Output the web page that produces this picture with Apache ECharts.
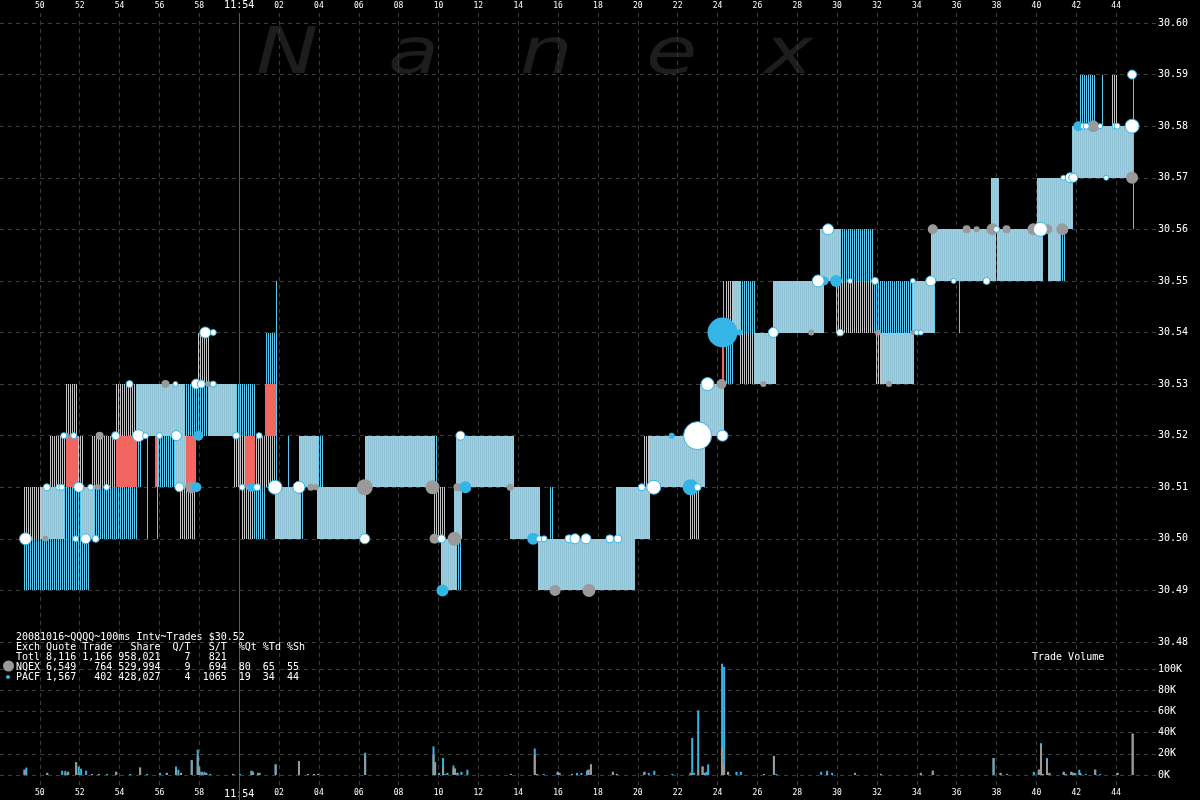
<!DOCTYPE html>
<html><head><meta charset="utf-8">
<script src="https://cdn.jsdelivr.net/npm/echarts@6/dist/echarts.min.js"></script>
<style>html,body{margin:0;padding:0;background:#000}#c{width:1200px;height:800px}</style>
</head><body><div id="c"></div>
<script>
// time in seconds after 11:53:00 (60 = 11:54:00)
const timeTicks = [50,52,54,56,58,60,62,64,66,68,70,72,74,76,78,80,82,84,86,88,90,92,94,96,98,100,102,104];
const sessionMarks = [60];

// quote bands [start, end, bid, ask]
const denseQuotes = [
 [50.05,51.2,30.50,30.51],[52.05,52.7,30.50,30.51],[54.8,57.3,30.52,30.53],[58.45,59.85,30.52,30.53],
 [56.8,57.35,30.51,30.52],[61.8,63.1,30.50,30.51],[63.0,63.95,30.51,30.52],[63.9,66.35,30.50,30.51],
 [66.3,69.85,30.51,30.52],[70.15,70.95,30.49,30.50],[70.8,71.2,30.50,30.51],[70.9,73.8,30.51,30.52],
 [73.6,75.1,30.50,30.51],[75.0,79.85,30.49,30.50],[78.9,80.6,30.50,30.51],[80.55,83.35,30.51,30.52],
 [83.1,84.35,30.52,30.53],[84.8,85.2,30.54,30.55],[85.85,86.95,30.53,30.54],[86.8,89.35,30.54,30.55],
 [89.15,90.2,30.55,30.56],[92.2,93.85,30.53,30.54],[93.8,94.85,30.54,30.55],[94.7,97.95,30.55,30.56],
 [97.7,98.1,30.56,30.57],[98.0,100.35,30.55,30.56],[100.05,101.85,30.56,30.57],[100.6,101.2,30.55,30.56],
 [101.8,104.85,30.57,30.58]
];
const graySparseQuotes = [
 [49.2,50.05,30.50,30.51],[50.5,51.3,30.51,30.52],[51.3,51.9,30.52,30.53],[51.9,52.2,30.51,30.52],
 [52.6,53.8,30.51,30.52],[53.8,54.8,30.52,30.53],[57.0,57.8,30.50,30.51],[57.9,58.55,30.53,30.54],
 [59.7,60.3,30.51,30.52],[60.8,61.85,30.51,30.52],[60.07,60.7,30.50,30.51],[69.7,70.35,30.50,30.51],
 [80.3,80.55,30.51,30.52],[82.6,83.05,30.50,30.51],[84.45,84.8,30.54,30.55],[85.1,85.85,30.53,30.54],
 [89.9,91.85,30.54,30.55],[91.9,92.3,30.53,30.54],[103.8,104.05,30.58,30.59]
];
const blueSparseQuotes = [
 [49.2,52.5,30.49,30.50],[51.2,52.05,30.50,30.51],[52.7,54.9,30.50,30.51],[54.85,55.1,30.51,30.52],
 [55.85,56.8,30.51,30.52],[57.3,58.45,30.52,30.53],[59.85,60.8,30.52,30.53],[61.35,61.85,30.53,30.54],
 [60.7,61.3,30.50,30.51],[63.95,64.2,30.51,30.52],[70.95,71.2,30.49,30.50],[75.55,75.8,30.50,30.51],
 [84.45,84.85,30.53,30.54],[85.2,85.95,30.54,30.55],[90.2,91.85,30.55,30.56],[91.85,93.8,30.54,30.55],
 [101.2,101.5,30.55,30.56],[102.2,103.0,30.58,30.59]
];
const crossedQuotes = [
 [51.3,51.9,30.51,30.52],[53.8,54.87,30.51,30.52],[55.8,55.9,30.51,30.52],[57.35,57.85,30.51,30.52],
 [60.3,60.8,30.51,30.52],[61.3,61.9,30.52,30.53],[84.2,84.35,30.53,30.54]
];
// single quote lines [time, bid, ask]
const quoteLines = [
 [55.37,30.50,30.52],[55.87,30.50,30.52],[61.87,30.51,30.55],[62.45,30.51,30.52],[63.15,30.50,30.51],
 [69.87,30.51,30.52],[84.28,30.54,30.55],[94.85,30.54,30.55],[96.1,30.54,30.55],[103.28,30.58,30.59],
 [104.83,30.56,30.59]
];

// trades [time, price, dot size]
const nqexTrades = [
 [50.28,30.50,6],[51.35,30.52,6],[52.1,30.51,6],[52.9,30.51,6],[53.0,30.52,8],[56.3,30.53,8],[57.6,30.51,12],
 [58.45,30.53,6],[63.6,30.51,7],[63.85,30.51,6],[66.3,30.51,16],[69.7,30.51,14],[70.95,30.51,8],[73.6,30.51,7],
 [69.8,30.50,10],[70.8,30.50,14],[75.85,30.49,11],[77.55,30.49,13],[84.2,30.53,10],[86.3,30.53,6],
 [88.7,30.54,6],[92.05,30.54,6],[92.6,30.53,6],[93.8,30.54,5],[94.8,30.56,10],[96.5,30.56,8],[97.0,30.56,6],
 [97.8,30.56,12],[98.5,30.56,8],[99.85,30.56,12],[100.55,30.56,10],[101.3,30.56,12],[102.85,30.58,12],
 [104.8,30.57,12]
];
const pacfTrades = [
 [57.95,30.52,10],[57.85,30.51,10],[60.6,30.51,9],[71.35,30.51,12],[70.2,30.49,12],[74.75,30.50,12],
 [82.65,30.51,16],[81.7,30.52,6],[84.25,30.54,30],[85.1,30.54,6],[89.35,30.55,9],[89.95,30.55,12],
 [102.1,30.58,10]
];
const whiteTrades = [
 [49.28,30.50,12],[50.35,30.51,7],[50.95,30.51,6],[51.1,30.51,6],[51.2,30.52,6],[51.7,30.52,6],[51.95,30.51,10],
 [51.8,30.50,6],[52.3,30.50,10],[52.8,30.50,7],[52.55,30.51,6],[53.35,30.51,6],[53.8,30.52,8],[54.5,30.53,7],
 [54.95,30.52,12],[55.3,30.52,6],[56.0,30.52,6],[56.85,30.52,10],[56.8,30.53,5],[57.0,30.51,9],[57.85,30.53,10],
 [58.1,30.53,8],[58.7,30.53,6],[58.3,30.54,11],[58.7,30.54,6],[59.85,30.52,7],[61.0,30.52,6],[60.15,30.51,6],
 [60.9,30.51,7],[61.8,30.51,14],[63.0,30.51,12],[66.3,30.50,10],[71.1,30.52,9],[70.15,30.50,8],[75.05,30.50,6],
 [75.3,30.50,6],[76.55,30.50,8],[76.85,30.50,10],[77.4,30.50,10],[78.6,30.50,8],[79.0,30.50,8],[80.2,30.51,7],
 [80.8,30.51,14],[83.0,30.51,7],[83.0,30.52,28],[84.25,30.52,11],[83.5,30.53,13],[86.8,30.54,10],[89.05,30.55,12],
 [89.55,30.56,11],[90.15,30.54,7],[90.65,30.55,5],[91.9,30.55,7],[93.8,30.55,5],[94.7,30.55,10],[94.0,30.54,5],
 [94.2,30.54,5],[95.85,30.55,5],[97.5,30.55,7],[98.0,30.56,6],[100.2,30.56,14],[101.35,30.57,5],[101.7,30.57,10],
 [101.85,30.57,9],[102.35,30.58,6],[102.5,30.58,6],[103.2,30.58,5],[103.95,30.58,6],[104.05,30.58,6],
 [103.5,30.57,5],[104.8,30.58,14],[104.8,30.59,9]
];

// trade volume (thousands of shares)
const volTimes = [49.23,49.32,50.37,51.12,51.28,51.42,51.82,51.95,52.07,52.32,52.62,52.95,53.37,53.83,54.53,55.03,55.37,56.03,56.37,56.83,56.95,57.08,57.62,57.92,58.0,58.12,58.25,58.35,58.55,59.7,60.05,60.62,60.7,60.95,61.03,61.83,63.0,63.45,63.75,63.95,66.32,69.75,69.83,70.03,70.23,70.33,70.45,70.75,70.83,70.95,71.15,71.45,73.63,74.83,74.95,75.28,75.98,76.07,76.7,76.95,77.17,77.45,77.53,77.65,78.75,78.95,80.33,80.55,80.83,81.73,82.65,82.73,82.83,83.03,83.25,83.35,83.45,83.53,84.23,84.33,84.53,84.95,85.17,86.33,86.83,86.95,89.2,89.5,89.75,90.9,92.2,94.2,94.8,97.85,98.2,98.53,99.87,100.12,100.23,100.33,100.53,100.65,101.37,101.47,101.75,101.83,101.93,102.15,102.2,102.48,102.95,103.2,104.07,104.83];
const volNqex  = [5,0,2,0,2,3,12,2,0,0,1,1,0,3,0,7,0,0,2,5,0,2,14,18,3,3,0,2,0,1,0,4,0,2,0,10,13,1,1,1,19,19,12,0,8,0,0,6,6,2,0,0,1,19,1,0,3,2,1,0,0,0,5,10,3,1,3,0,0,0,2,0,0,5,8,2,0,0,26,10,3,0,0,1,18,0,0,1,0,2,1,2,4,16,2,1,0,5,28,1,14,2,3,1,3,2,0,0,2,0,5,0,2,39];
const volPacf  = [0,7,0,4,2,0,0,6,6,4,0,0,1,0,1,0,1,2,0,3,5,0,0,6,5,0,3,0,1,0,1,0,3,0,2,0,0,0,0,0,2,8,0,2,8,1,2,3,0,0,3,5,0,6,0,1,0,0,0,2,2,4,0,0,0,0,0,2,4,1,0,35,2,56,0,0,3,10,79,92,0,3,3,0,0,1,3,3,2,0,0,0,0,0,0,0,3,0,2,0,2,0,0,0,0,0,2,5,0,1,0,1,0,0];

const infoLines = [
 '20081016~QQQQ~100ms Intv~Trades $30.52',
 'Exch Quote Trade   Share  Q/T   S/T  %Qt %Td %Sh',
 'Totl 8,116 1,166 958,021    7   821',
 'NQEX 6,549   764 529,994    9   694  80  65  55',
 'PACF 1,567   402 428,027    4  1065  19  34  44'
];
const watermark = ['N','a','n','e','x'];

const MONO = '"DejaVu Sans Mono", monospace';
const BLUE = '#33b5e5', GRAY = '#9a9a9a';

// column colour cycles for the quote bands (null = gap)
const cycles = {
  dense: ['#90c4d6','#c2c2c2'],
  gray: ['#c4c4c4', null],
  blue: ['#5ccaf0', null],
  red: ['#f26560']
};
function bandRender(cols){
  return function(params, api){
    const a = api.coord([api.value(0), api.value(3)]);
    const b = api.coord([api.value(1), api.value(2)]);
    const x0 = Math.round(a[0]), x1 = Math.max(x0 + 1, Math.round(b[0]));
    const y = Math.round(a[1]), h = Math.round(b[1]) - y;
    const children = [];
    for (let x = x0; x < x1; x++) {
      const c = cols[((x % cols.length) + cols.length) % cols.length];
      if (c) children.push({type:'rect', shape:{x:x, y:y, width:1, height:h}, style:{fill:c}});
    }
    return {type:'group', children:children};
  };
}
function bandSeries(data, cols, z){
  return {type:'custom', xAxisIndex:0, yAxisIndex:0, data:data, renderItem:bandRender(cols),
          encode:{x:[0,1], y:[2,3]}, z:z, silent:true};
}
function tradeSeries(data, style){
  return {type:'scatter', xAxisIndex:0, yAxisIndex:0, data:data, z:10,
          symbolSize:function(d){return d[2];}, itemStyle:style, silent:true};
}
function tLabel(v){
  if (v === 60) return '{b|11:54}';
  const s = Math.round(v) % 60;
  return '{s|' + (s < 10 ? '0' + s : '' + s) + '}';
}
const labelRich = {b:{fontSize:10, fontFamily:MONO, color:'#fff'}, s:{fontSize:8, fontFamily:MONO, color:'#fff'}};

const X = {min:48, max:106, interval:2, type:'value'};
const dash = {color:'#3c3c3c', type:[4,4], width:1};
const wmX = [256, 388, 520, 646, 764];

const chart = echarts.init(document.getElementById('c'), null, {renderer:'canvas'});
chart.setOption({
  backgroundColor:'#000',
  animation:false,
  grid:[
    {left:-4, width:1160, top:23, height:619},
    {left:-4, width:1160, top:669, height:106},
    {left:-4, width:1160, top:12, height:776}
  ],
  xAxis:[
    Object.assign({gridIndex:0, show:false}, X),
    Object.assign({gridIndex:1, show:false}, X),
    Object.assign({gridIndex:2, position:'top', axisLine:{show:false}, axisTick:{show:false},
      splitLine:{show:true, lineStyle:dash, showMinLine:false, showMaxLine:false},
      axisLabel:{show:true, margin:3, formatter:tLabel, rich:labelRich, showMaxLabel:false, showMinLabel:false}}, X),
    Object.assign({gridIndex:2, position:'bottom', axisLine:{show:false}, axisTick:{show:false}, splitLine:{show:false},
      axisLabel:{show:true, margin:1, formatter:tLabel, rich:labelRich, showMaxLabel:false, showMinLabel:false}}, X)
  ],
  yAxis:[
    {gridIndex:0, type:'value', position:'right', min:30.48, max:30.60, interval:0.01,
     axisLine:{show:false}, axisTick:{show:false}, splitLine:{show:true, lineStyle:dash},
     axisLabel:{margin:2, color:'#fff', fontFamily:MONO, fontSize:10, formatter:function(v){return v.toFixed(2);}}},
    {gridIndex:1, type:'value', position:'right', min:0, max:100, interval:20,
     axisLine:{show:false}, axisTick:{show:false}, splitLine:{show:true, lineStyle:dash},
     axisLabel:{margin:2, color:'#fff', fontFamily:MONO, fontSize:10, formatter:function(v){return v + 'K';}}},
    {gridIndex:2, type:'value', min:0, max:1, show:false}
  ],
  graphic: watermark.map(function(ch, i){
      return {type:'text', x:wmX[i], y:24, scaleX:1.3, z:-1, silent:true,
        style:{text:ch, font:'italic 64px "DejaVu Sans"', fill:'#1d1d1d', verticalAlign:'top'}};
    }).concat(infoLines.map(function(line, i){
      return {type:'text', left:16, top:632 + i*10, z:100, silent:true,
        style:{text:line, font:'10px ' + MONO, fill:'#fff'}};
    })).concat([
      {type:'circle', shape:{cx:8.5, cy:666, r:5.5}, style:{fill:GRAY}, z:100, silent:true},
      {type:'circle', shape:{cx:8, cy:677, r:2}, style:{fill:BLUE}, z:100, silent:true},
      {type:'text', left:1032, top:652, z:100, silent:true, style:{text:'Trade Volume', font:'10px ' + MONO, fill:'#fff'}}
    ]),
  series:[
    {type:'custom', xAxisIndex:2, yAxisIndex:2, data:sessionMarks.map(function(v){return [v];}), z:1, silent:true,
     renderItem:function(params, api){
       const top = api.coord([api.value(0), 1]); const bot = api.coord([api.value(0), 0]);
       const x = Math.round(top[0]) + 0.5;
       return {type:'line', shape:{x1:x, y1:top[1], x2:x, y2:bot[1] + 12}, style:{stroke:'#5a5a5a', lineWidth:1}};
     }},
    bandSeries(graySparseQuotes, cycles.gray, 3),
    bandSeries(blueSparseQuotes, cycles.blue, 3),
    bandSeries(denseQuotes, cycles.dense, 4),
    bandSeries(crossedQuotes, cycles.red, 5),
    {type:'custom', xAxisIndex:0, yAxisIndex:0, data:quoteLines, z:5, silent:true, encode:{x:0, y:[1,2]},
     renderItem:function(params, api){
       const a = api.coord([api.value(0), api.value(2)]); const b = api.coord([api.value(0), api.value(1)]);
       return {type:'rect', shape:{x:Math.round(a[0]), y:Math.round(a[1]), width:1, height:Math.round(b[1]) - Math.round(a[1])}, style:{fill:'#5ccaf0'}};
     }},
    tradeSeries(nqexTrades, {color:GRAY, opacity:1}),
    tradeSeries(pacfTrades, {color:BLUE, opacity:1}),
    tradeSeries(whiteTrades, {color:'#ffffff', borderColor:BLUE, borderWidth:1, opacity:1}),
    {type:'bar', xAxisIndex:1, yAxisIndex:1, barWidth:2, barGap:'-100%', clip:false, silent:true, z:3,
     itemStyle:{color:BLUE},
     data:volTimes.map(function(t, i){ return [t, volNqex[i] + volPacf[i]]; })},
    {type:'bar', xAxisIndex:1, yAxisIndex:1, barWidth:2, barGap:'-100%', clip:false, silent:true, z:4,
     itemStyle:{color:GRAY},
     data:volTimes.map(function(t, i){ return [t, volNqex[i]]; })}
  ]
});
</script>
</body></html>
